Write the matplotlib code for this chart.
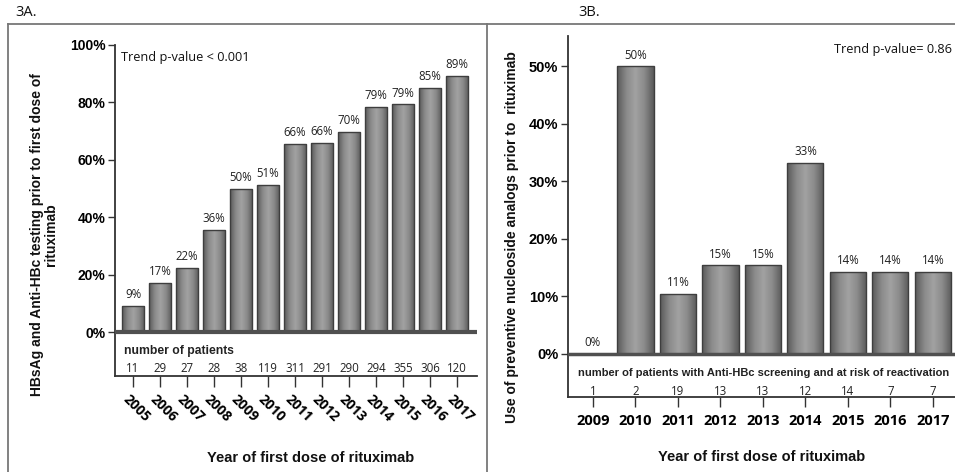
import matplotlib
matplotlib.use("Agg")
import matplotlib.pyplot as plt
import numpy as np
from matplotlib.lines import Line2D
from matplotlib.colors import LinearSegmentedColormap
from matplotlib.transforms import ScaledTranslation

# ---------------- data ----------------
years_a = ["2005", "2006", "2007", "2008", "2009", "2010", "2011",
           "2012", "2013", "2014", "2015", "2016", "2017"]
pct_a = [9.0, 17.2, 22.2, 35.5, 49.8, 51.2, 65.5, 66.0, 69.8, 78.5, 79.3, 84.9, 89.1]
labels_a = ["9%", "17%", "22%", "36%", "50%", "51%", "66%", "66%", "70%",
            "79%", "79%", "85%", "89%"]
n_a = [11, 29, 27, 28, 38, 119, 311, 291, 290, 294, 355, 306, 120]
yticks_a = [0, 20, 40, 60, 80, 100]

years_b = ["2009", "2010", "2011", "2012", "2013", "2014", "2015", "2016", "2017"]
pct_b = [0.0, 50.0, 10.5, 15.4, 15.4, 33.3, 14.3, 14.3, 14.3]
labels_b = ["0%", "50%", "11%", "15%", "15%", "33%", "14%", "14%", "14%"]
n_b = [1, 2, 19, 13, 13, 12, 14, 7, 7]
yticks_b = [0, 10, 20, 30, 40, 50]

W, H = 955, 472
fig = plt.figure(figsize=(W / 100, H / 100), dpi=100)

BOLD = "Liberation Sans"
NORM = "Open Sans"

cmap = LinearSegmentedColormap.from_list(
    "cyl", ["#5a5a5a", "#8a8a8a", "#a2a2a2", "#8a8a8a", "#5a5a5a"])
grad = np.linspace(0, 1, 64).reshape(1, -1)


def px_axes(x0, x1, ytop, ybot):
    return fig.add_axes([x0 / W, (H - ybot) / H, (x1 - x0) / W, (ybot - ytop) / H])


def draw_bars(ax, vals, width):
    x = np.arange(len(vals))
    bars = ax.bar(x, vals, width=width, color="#8a8a8a", edgecolor="#3e3e3e",
                  linewidth=1.0, zorder=2)
    for b in bars:
        x0, y0 = b.get_x(), b.get_y()
        w, h = b.get_width(), b.get_height()
        if h <= 0:
            continue
        im = ax.imshow(grad, extent=[x0, x0 + w, y0, y0 + h], aspect="auto",
                       cmap=cmap, zorder=2.5, interpolation="bilinear")
        im.set_clip_path(b)
        b.set_facecolor("none")
        b.set_zorder(3)
    return bars


def style_axes(ax):
    for s in ["top", "right"]:
        ax.spines[s].set_visible(False)
    ax.spines["left"].set_color("#333333")
    ax.spines["left"].set_linewidth(1.3)
    ax.spines["bottom"].set_color("#333333")
    ax.spines["bottom"].set_linewidth(1.3)


# ---------------- panel A ----------------
axA = px_axes(115, 477, 45, 376)
draw_bars(axA, pct_a, 0.85)
axA.set_xlim(-0.667, 12.74)
axA.set_ylim(-15.33, 100)
style_axes(axA)
axA.axhline(0, color="#505050", linewidth=3, zorder=4)
axA.set_yticks(yticks_a)
axA.set_yticklabels([f"{v}%" for v in yticks_a], fontfamily=BOLD,
                    fontweight="bold", fontsize=10)
axA.tick_params(axis="y", length=5, width=1, color="#333333", pad=2)
axA.set_xticks(np.arange(len(years_a)))
axA.set_xticklabels(years_a, rotation=-45, rotation_mode="anchor",
                    ha="left", va="center", fontfamily=NORM,
                    fontweight="bold", fontsize=10)
axA.tick_params(axis="x", length=8, width=1, color="#333333", pad=7)
shift = ScaledTranslation(-8 / 100, 0, fig.dpi_scale_trans)
for lab in axA.get_xticklabels():
    lab.set_transform(lab.get_transform() + shift)
for i, (v, lab) in enumerate(zip(pct_a, labels_a)):
    axA.annotate(lab, (i, v), xytext=(0, 3.5), textcoords="offset points",
                 ha="center", va="bottom", fontsize=8.3, fontfamily=NORM,
                 color="#222222")
axA.text(-0.33, -6.6, "number of patients", fontfamily=BOLD, fontweight="bold",
         fontsize=8.7, ha="left", va="center", color="#222222")
for i, n in enumerate(n_a):
    axA.text(i, -12.8, str(n), fontfamily=NORM, fontsize=8.3, ha="center",
             va="center", color="#222222")
axA.text(121 / W, 1 - 58 / H, "Trend p-value < 0.001", transform=fig.transFigure,
         fontfamily=NORM, fontsize=9.2, ha="left", va="center", color="#111111")

fig.text(44 / W, 1 - 235 / H,
         "HBsAg and Anti-HBc testing prior to first dose of\nrituximab",
         rotation=90, ha="center", va="center", fontfamily=BOLD,
         fontweight="bold", fontsize=10, linespacing=1.05, color="#111111",
         multialignment="center")
fig.text(311 / W, 1 - 458 / H, "Year of first dose of rituximab",
         ha="center", va="center", fontfamily=BOLD, fontweight="bold",
         fontsize=10.5, color="#111111")

# ---------------- panel B ----------------
axB = px_axes(568, 955, 36, 397)
draw_bars(axB, pct_b, 0.85)
axB.set_xlim(-0.588, 8.52)
axB.set_ylim(-7.48, 55.3)
style_axes(axB)
axB.axhline(0, color="#505050", linewidth=2.5, zorder=4)
axB.set_yticks(yticks_b)
axB.set_yticklabels([f"{v}%" for v in yticks_b], fontfamily=BOLD,
                    fontweight="bold", fontsize=10.5)
axB.tick_params(axis="y", length=5, width=1, color="#333333", pad=2)
axB.set_xticks(np.arange(len(years_b)))
axB.set_xticklabels(years_b, fontfamily=NORM, fontweight="bold", fontsize=10.5)
axB.tick_params(axis="x", length=7, width=1, color="#333333", pad=5)
for i, (v, lab) in enumerate(zip(pct_b, labels_b)):
    axB.annotate(lab, (i, v), xytext=(0, 3.5), textcoords="offset points",
                 ha="center", va="bottom", fontsize=8.3, fontfamily=NORM,
                 color="#222222")
axB.text(-0.35, -3.3,
         "number of patients with Anti-HBc screening and at risk of reactivation",
         fontfamily=BOLD, fontweight="bold", fontsize=8.0, ha="left",
         va="center", color="#222222")
for i, n in enumerate(n_b):
    axB.text(i, -6.6, str(n), fontfamily=NORM, fontsize=8.3, ha="center",
             va="center", color="#222222")
axB.text(952 / W, 1 - 50 / H, "Trend p-value= 0.86", transform=fig.transFigure,
         fontfamily=NORM, fontsize=9.2, ha="right", va="center", color="#111111")

fig.text(512 / W, 1 - 237 / H,
         "Use of preventive nucleoside analogs prior to  rituximab",
         rotation=90, ha="center", va="center", fontfamily=BOLD,
         fontweight="bold", fontsize=10, color="#111111")
fig.text(762 / W, 1 - 457 / H, "Year of first dose of rituximab",
         ha="center", va="center", fontfamily=BOLD, fontweight="bold",
         fontsize=10.5, color="#111111")

# ---------------- frame & panel titles ----------------
fc = "#777777"
fig.add_artist(Line2D([8 / W, 1], [1 - 24 / H, 1 - 24 / H], color=fc, lw=1.3,
                      transform=fig.transFigure))
fig.add_artist(Line2D([8 / W, 8 / W], [0, 1 - 24 / H], color=fc, lw=1.3,
                      transform=fig.transFigure))
fig.add_artist(Line2D([487 / W, 487 / W], [0, 1 - 24 / H], color=fc, lw=1.3,
                      transform=fig.transFigure))
fig.text(15 / W, 1 - 13 / H, "3A.", fontfamily=NORM, fontsize=10.5, ha="left",
         va="center", color="#111111")
fig.text(578 / W, 1 - 13 / H, "3B.", fontfamily=NORM, fontsize=10.5, ha="left",
         va="center", color="#111111")

fig.savefig("out.png", dpi=100)
